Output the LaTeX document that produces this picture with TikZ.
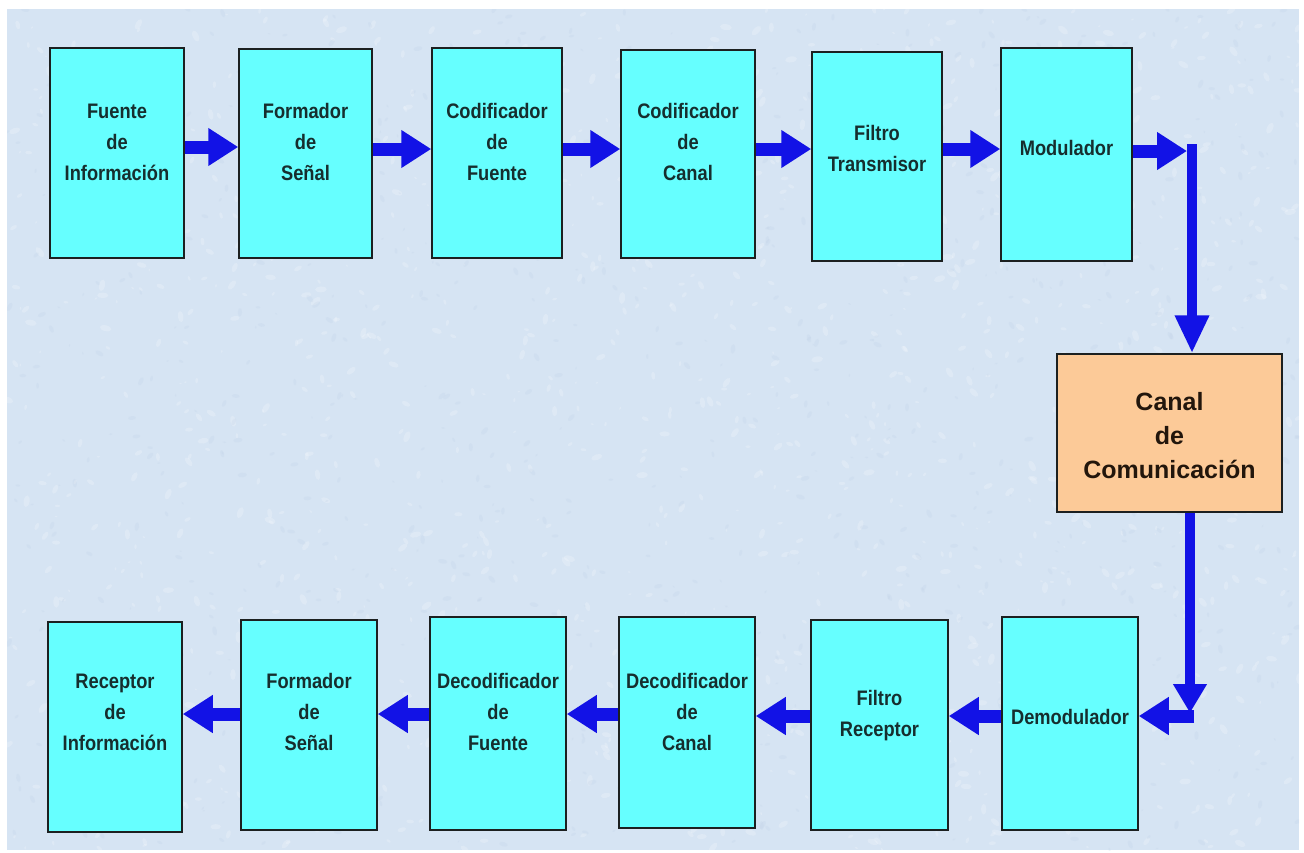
\documentclass[tikz,border=0pt]{standalone}
\usepackage{fontspec}
\usetikzlibrary{arrows.meta,calc}
\newfontfamily\blkfont{Liberation Sans}[FakeStretch=0.87]
\newfontfamily\canalfont{Liberation Sans}

\definecolor{fondo}{RGB}{214,228,243}
\definecolor{fondoosc}{RGB}{188,206,228}
\definecolor{cian}{RGB}{102,255,255}
\definecolor{durazno}{RGB}{252,202,152}
\definecolor{borde}{RGB}{28,32,32}
\definecolor{azulflecha}{RGB}{18,18,230}
\definecolor{textoblq}{RGB}{22,46,46}
\definecolor{textocanal}{RGB}{34,22,12}

\tikzset{
  blq/.style={draw=borde, line width=1.5pt, fill=cian, inner sep=0pt, rectangle},
  canalbox/.style={draw=borde, line width=1.5pt, fill=durazno, inner sep=0pt, rectangle},
  lbl/.style={align=center, inner sep=0pt, text=textoblq,
              font=\blkfont\bfseries\fontsize{21}{31}\selectfont},
  flow/.style={draw=azulflecha, line width=13pt,
               -{Triangle[width=36pt,length=30pt]}},
  flowdown/.style={draw=azulflecha, line width=10pt,
               -{Triangle[width=32pt,length=38pt]}},
  flowdowns/.style={draw=azulflecha, line width=10pt,
               -{Triangle[width=32pt,length=29pt]}},
}

% block: name, x1, y1, x2, y2, text centre y, text
\newcommand\cajablq[7]{%
  \node[blq, minimum width={(#4)-(#2)}, minimum height={(#5)-(#3)}]
    (#1) at ({((#2)+(#4))/2},{((#3)+(#5))/2}) {};
  \node[lbl] (#1-t) at ({((#2)+(#4))/2},#6) {#7};
}

\begin{document}
\begin{tikzpicture}[x=1pt,y=-1pt]
  % page and mottled backdrop
  \fill[white] (0,0) rectangle (1304,852);
  \useasboundingbox (0,0) rectangle (1304,852);
  \fill[fondo] (7,9) rectangle (1299,850);
  \begin{scope}
    \clip (7,9) rectangle (1299,850);
    \pgfmathsetseed{17}
    \foreach \i in {1,...,1300}{
      \pgfmathsetmacro\px{7+1292*rnd}
      \pgfmathsetmacro\py{9+841*rnd}
      \pgfmathsetmacro\rr{1.5+4.5*rnd}
      \pgfmathsetmacro\ang{180*rnd}
      \fill[white, opacity=0.2, rotate around={\ang:(\px,\py)}]
        (\px,\py) ellipse ({\rr} and {0.5*\rr});
    }
    \foreach \i in {1,...,900}{
      \pgfmathsetmacro\px{7+1292*rnd}
      \pgfmathsetmacro\py{9+841*rnd}
      \pgfmathsetmacro\rr{1.2+3.5*rnd}
      \pgfmathsetmacro\ang{180*rnd}
      \fill[fondoosc, opacity=0.2, rotate around={\ang:(\px,\py)}]
        (\px,\py) ellipse ({\rr} and {0.5*\rr});
    }
  \end{scope}

  % transmitter chain
  \cajablq{f1}{50}{48}{184}{258}{142}{Fuente\\de\\Información}
  \cajablq{f2}{239}{49}{372}{258}{142}{Formador\\de\\Señal}
  \cajablq{f3}{432}{48}{562}{258}{142}{Codificador\\de\\Fuente}
  \cajablq{f4}{621}{50}{755}{258}{142}{Codificador\\de\\Canal}
  \cajablq{f5}{812}{52}{942}{261}{148}{Filtro\\Transmisor}
  \cajablq{f6}{1001}{48}{1132}{261}{148}{Modulador}

  % channel
  \node[canalbox, minimum width=225pt, minimum height=158pt]
    (canal) at (1169.5,433) {};
  \node[align=center, inner sep=0pt, text=textocanal,
        font=\canalfont\bfseries\fontsize{25}{34}\selectfont]
    (canal-t) at (1169.5,436) {Canal\\de\\Comunicación};

  % receiver chain
  \cajablq{r1}{48}{622}{182}{832}{712}{Receptor\\de\\Información}
  \cajablq{r2}{241}{620}{377}{830}{712}{Formador\\de\\Señal}
  \cajablq{r3}{430}{617}{566}{830}{712}{Decodificador\\de\\Fuente}
  \cajablq{r4}{619}{617}{755}{828}{712}{Decodificador\\de\\Canal}
  \cajablq{r5}{811}{620}{948}{830}{716}{Filtro\\Receptor}
  \cajablq{r6}{1002}{617}{1138}{830}{717}{Demodulador}

  % forward arrows
  \draw[flow] (f1.east |- 0,147) -- (f2.west |- 0,147);
  \draw[flow] (f2.east |- 0,149) -- (f3.west |- 0,149);
  \draw[flow] (f3.east |- 0,149) -- (f4.west |- 0,149);
  \draw[flow] (f4.east |- 0,149) -- (f5.west |- 0,149);
  \draw[flow] (f5.east |- 0,149) -- (f6.west |- 0,149);

  % down into the channel and out again
  \coordinate (esq1) at (1187,151);
  \coordinate (bajada) at (1192,144);
  \draw[flow] (f6.east |- esq1) -- (esq1);
  \draw[flowdown] (bajada) -- (bajada |- canal.north);

  \coordinate (esq2) at (1190,713);
  \coordinate (esq3) at (1194,716);
  \draw[flowdowns] (canal.south -| esq2) -- (esq2);
  \draw[flow] (esq3) -- (r6.east |- esq3);

  % return arrows
  \draw[flow] (r6.west |- 0,716) -- (r5.east |- 0,716);
  \draw[flow] (r5.west |- 0,716) -- (r4.east |- 0,716);
  \draw[flow] (r4.west |- 0,714) -- (r3.east |- 0,714);
  \draw[flow] (r3.west |- 0,714) -- (r2.east |- 0,714);
  \draw[flow] (r2.west |- 0,714) -- (r1.east |- 0,714);
\end{tikzpicture}
\end{document}
